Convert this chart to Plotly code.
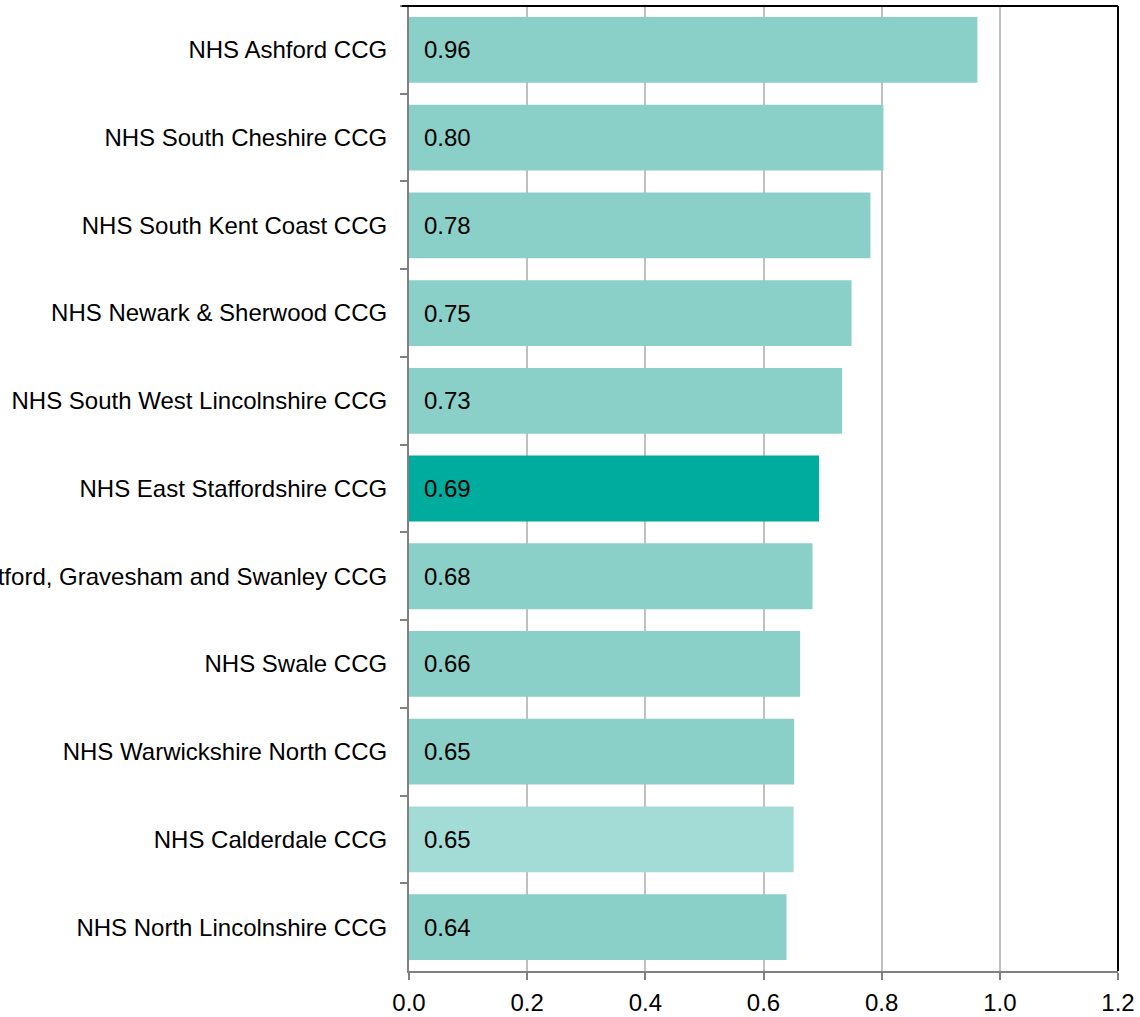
import plotly.graph_objects as go

categories = [
    "NHS Ashford CCG",
    "NHS South Cheshire CCG",
    "NHS South Kent Coast CCG",
    "NHS Newark & Sherwood CCG",
    "NHS South West Lincolnshire CCG",
    "NHS East Staffordshire CCG",
    "NHS Dartford, Gravesham and Swanley CCG",
    "NHS Swale CCG",
    "NHS Warwickshire North CCG",
    "NHS Calderdale CCG",
    "NHS North Lincolnshire CCG",
]
values = [0.962, 0.803, 0.781, 0.749, 0.733, 0.694, 0.683, 0.662, 0.652, 0.651, 0.639]
labels = ["0.96", "0.80", "0.78", "0.75", "0.73", "0.69", "0.68", "0.66", "0.65", "0.65", "0.64"]
x_ticks = [0.0, 0.2, 0.4, 0.6, 0.8, 1.0, 1.2]
x_tick_text = ["0.0", "0.2", "0.4", "0.6", "0.8", "1.0", "1.2"]

BASE = "#8ad0c8"
HIGHLIGHT = "#00ac9d"
SOFT = "#a3dbd6"
color_map = {"NHS East Staffordshire CCG": HIGHLIGHT, "NHS Calderdale CCG": SOFT}
colors = [color_map.get(c, BASE) for c in categories]

FONT = "Arial, 'Liberation Sans', sans-serif"
FS = 24

fig = go.Figure(go.Bar(
    x=values, y=categories, orientation="h",
    marker=dict(color=colors, line=dict(width=0)),
    hoverinfo="skip",
))

for c, lab in zip(categories, labels):
    fig.add_annotation(x=0, y=c, text=lab, xref="x", yref="y",
                       xanchor="left", yanchor="middle", xshift=13,
                       showarrow=False, font=dict(family=FONT, size=FS, color="#000000"))

# black frame on top and right
fig.add_shape(type="line", xref="paper", yref="paper", x0=-0.01, x1=1, y0=1, y1=1,
              line=dict(color="#000000", width=2))
fig.add_shape(type="line", xref="paper", yref="paper", x0=1, x1=1, y0=0, y1=1,
              line=dict(color="#000000", width=2))

fig.update_layout(
    width=1140, height=1017,
    margin=dict(l=409, r=22, t=6, b=46),
    paper_bgcolor="white", plot_bgcolor="white",
    bargap=0.25,
    showlegend=False,
    font=dict(family=FONT, size=FS, color="#000000"),
    xaxis=dict(
        range=[0, 1.2], tickvals=x_ticks, ticktext=x_tick_text,
        showgrid=True, gridcolor="#c0c0c0", gridwidth=1.5,
        showline=True, linecolor="#808080", linewidth=2,
        ticks="outside", ticklen=7, tickcolor="#808080", tickwidth=1.5,
        zeroline=False, automargin=False,
        tickfont=dict(family=FONT, size=FS, color="#000000"),
        ticklabelstandoff=2,
    ),
    yaxis=dict(
        categoryorder="array", categoryarray=categories, autorange="reversed",
        showline=True, linecolor="#808080", linewidth=2,
        ticks="outside", ticklen=7, tickcolor="#808080", tickwidth=1.5,
        tickson="boundaries", showgrid=False, zeroline=False, automargin=False,
        tickfont=dict(family=FONT, size=FS, color="#000000"),
        ticklabelstandoff=15,
    ),
)

fig.write_html("out.html", config={"displayModeBar": False},
               post_script="document.body.style.margin='0';document.body.style.padding='0';")
